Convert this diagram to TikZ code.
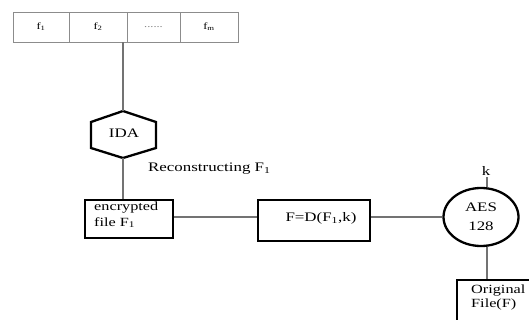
\documentclass[tikz,border=0pt]{standalone}
\usepackage{fontspec}
\setmainfont[FakeStretch=1.3]{Liberation Serif}
\usetikzlibrary{shapes.geometric,calc}
\begin{document}
\begin{tikzpicture}[x=1pt,y=-1pt,
  cell/.style={draw=black!45,line width=0.9pt,minimum height=30pt,inner sep=0pt,font=\fontsize{9.5}{10}\selectfont},
  thickbox/.style={draw=black,line width=2.3pt,inner sep=0pt},
  conn/.style={draw=black!55,line width=1.2pt},
  lbl/.style={font=\fontsize{13}{15}\selectfont,inner sep=0pt}]
\useasboundingbox (0,0) rectangle (529,320);
\clip (0,0) rectangle (529,320);
% top row
\node[cell,minimum width=56pt] (f1) at (41,27) {f\textsubscript{1}};
\node[cell,minimum width=58pt] (f2) at (98,27) {f\textsubscript{2}};
\node[cell,minimum width=53pt] (fd) at (153.5,27) {\textcolor{black!50}{......}};
\node[cell,minimum width=58pt] (fm) at (209,27) {f\textsubscript{m}};
% hexagon IDA
\coordinate (idatop) at (123,111);
\coordinate (idabot) at (123,158);
\draw[black,line width=2.3pt,line join=miter] (idatop) -- (156,122) -- (156,148) -- (idabot) -- (91,148) -- (91,122) -- cycle;
\node[lbl,font=\fontsize{13}{15}\selectfont] (ida) at (124,133.5) {IDA};
\node[lbl,anchor=base west] (rec) at (148,172) {Reconstructing F\textsubscript{1}};
% encrypted file
\node[thickbox,minimum width=88pt,minimum height=38pt] (enc) at (129,219) {};
\node[lbl,anchor=base west,align=left,font=\fontsize{12.5}{16}\selectfont] (enctxt) at (94,226) {encrypted\\file F\textsubscript{1}};
% F box
\node[thickbox,minimum width=112pt,minimum height=41pt] (fbox) at (314,220.5) {};
\node[lbl] (ftxt) at (321,218) {F=D(F\textsubscript{1},k)};
% AES ellipse
\node[ellipse,draw=black,line width=2.3pt,minimum width=75pt,minimum height=58pt,inner sep=0pt,align=center,font=\fontsize{13}{19}\selectfont] (aes) at (481,217) {AES\\128};
\node[lbl] (k) at (486,171) {k};
\coordinate (kbot) at (487,177);
% original file
\node[thickbox,minimum width=80pt,minimum height=50pt] (orig) at (497,305) {};
\node[lbl,anchor=base west,align=left,font=\fontsize{12.5}{14}\selectfont] (origtxt) at (471,307) {Original\\File(F)};
% connectors
\draw[conn] (fd.south west -| idatop) -- (idatop);
\draw[conn] (idabot) -- (enc.north -| idabot);
\draw[conn] (enc.east |- aes.west) -- (fbox.west |- aes.west);
\draw[conn] (fbox.east |- aes.west) -- (aes.west);
\draw[conn] (kbot) -- (kbot |- aes.north);
\draw[conn] (kbot |- aes.south) -- (kbot |- orig.north);
\end{tikzpicture}
\end{document}
